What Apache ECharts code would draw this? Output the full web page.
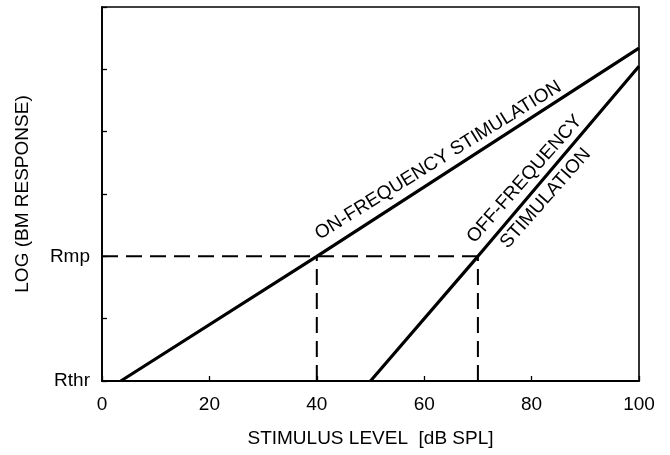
<!DOCTYPE html>
<html>
<head>
<meta charset="utf-8">
<script src="https://cdn.jsdelivr.net/npm/echarts@6/dist/echarts.min.js"></script>
<style>
html,body{margin:0;padding:0;background:#fff;}
#chart{width:670px;height:455px;}
</style>
</head>
<body>
<div id="chart"></div>
<script>
// Data (x: dB SPL, y: log BM response in tick units; 0 = Rthr, 2 = Rmp)
var onFrequency = [[3.5, 0], [40, 2], [100, 5.34]];
var offFrequency = [[50, 0], [70, 2], [100, 5.05]];
var rmpHorizontal = [[0, 2], [70, 2]];
var drop40 = [[40, 0], [40, 2]];
var drop70 = [[70, 0], [70, 2]];
var yTickLabels = {0: 'Rthr', 2: 'Rmp'};
var xTicks = [0, 20, 40, 60, 80, 100];
// Annotation anchors (data coordinates) and texts
var annotations = [
  {text: 'ON-FREQUENCY STIMULATION', at: [62.6, 3.54], along: onFrequency.slice(1)},
  {text: 'OFF-FREQUENCY', at: [78.7, 3.24], along: offFrequency.slice(1)},
  {text: 'STIMULATION', at: [82.6, 2.93], along: offFrequency.slice(1)}
];

var FONT = '"Liberation Sans", Arial, Helvetica, sans-serif';
var FS = 19;
var chart = echarts.init(document.getElementById('chart'));

var solid = {color: '#000', width: 3.2};
var dashed = {color: '#000', width: 2, type: [16, 8]};

function lineSeries(data, style) {
  return {type: 'line', data: data, symbol: 'none', lineStyle: style, silent: true, animation: false, z: 3};
}

chart.setOption({
  animation: false,
  backgroundColor: '#fff',
  grid: {left: 102, right: 31, top: 7, bottom: 74, show: true, borderColor: '#000', borderWidth: 1.6, backgroundColor: 'transparent'},
  xAxis: {
    type: 'value', min: 0, max: 100, interval: 20,
    name: 'STIMULUS LEVEL  [dB SPL]', nameLocation: 'middle', nameGap: 48,
    nameTextStyle: {fontFamily: FONT, fontSize: FS, color: '#000'},
    axisLine: {lineStyle: {color: '#000', width: 1.8}},
    axisTick: {inside: true, length: 5, lineStyle: {color: '#000', width: 1.3}},
    axisLabel: {fontFamily: FONT, fontSize: FS, color: '#000', margin: 14,
      formatter: function (v) { return xTicks.indexOf(v) >= 0 ? String(v) : ''; }},
    splitLine: {show: false}
  },
  yAxis: {
    type: 'value', min: 0, max: 6, interval: 1,
    name: 'LOG (BM RESPONSE)', nameLocation: 'middle', nameGap: 70,
    nameTextStyle: {fontFamily: FONT, fontSize: FS, color: '#000'},
    axisLine: {lineStyle: {color: '#000', width: 1.8}},
    axisTick: {inside: true, length: 5, lineStyle: {color: '#000', width: 1.3}},
    axisLabel: {fontFamily: FONT, fontSize: FS, color: '#000', margin: 12,
      formatter: function (v) { return yTickLabels[v] || ''; }},
    splitLine: {show: false}
  },
  series: [
    lineSeries(onFrequency, solid),
    lineSeries(offFrequency, solid),
    lineSeries(rmpHorizontal, dashed),
    lineSeries(drop40, dashed),
    lineSeries(drop70, dashed)
  ]
});

// Place rotated annotations using the chart's own coordinate conversion
var graphics = annotations.map(function (a) {
  var p = chart.convertToPixel({gridIndex: 0}, a.at);
  var p1 = chart.convertToPixel({gridIndex: 0}, a.along[0]);
  var p2 = chart.convertToPixel({gridIndex: 0}, a.along[1]);
  var ang = Math.atan2(p1[1] - p2[1], p2[0] - p1[0]);
  return {
    type: 'text', x: p[0], y: p[1], rotation: ang - 0.02, z: 10,
    style: {text: a.text, fontFamily: FONT, fontSize: FS, fill: '#000', align: 'center', verticalAlign: 'middle'}
  };
});
chart.setOption({graphic: graphics});
</script>
</body>
</html>
